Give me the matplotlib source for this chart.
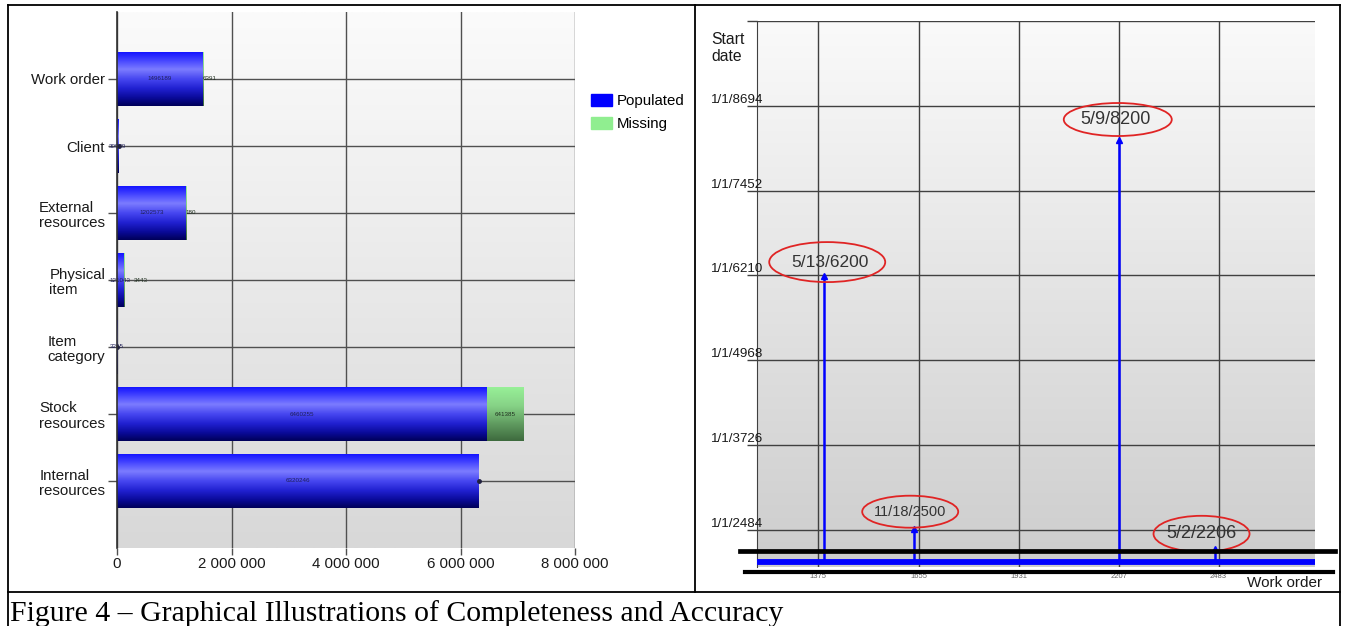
import datetime

import numpy as np
import matplotlib
matplotlib.use("Agg")
import matplotlib.pyplot as plt
import matplotlib.transforms as mtransforms
from matplotlib.colors import LinearSegmentedColormap
from matplotlib.lines import Line2D
from matplotlib.patches import Ellipse, Patch

plt.rcParams["font.family"] = ["Liberation Sans", "DejaVu Sans"]

# ---------------- completeness data (left panel) ----------------
categories = ["Work order", "Client", "External\nresources", "Physical\nitem",
              "Item\ncategory", "Stock\nresources", "Internal\nresources"]
populated = [1496189, 30979, 1202573, 121043, 3265, 6460255, 6320246]
missing = [6391, 0, 180, 3443, 0, 641385, 0]
x_ticks = [0, 2000000, 4000000, 6000000, 8000000]
x_tick_labels = ["0", "2 000 000", "4 000 000", "6 000 000", "8 000 000"]

# ---------------- accuracy data (right panel) ----------------
date_tick_labels = ["1/1/2484", "1/1/3726", "1/1/4968", "1/1/6210", "1/1/7452", "1/1/8694"]
date_axis_top = 9936
order_ticks = [1375, 1655, 1931, 2207, 2483]
order_range = [1206, 2750]
typical_year = 2010
outlier_orders = [1392, 1641, 2207, 2472]
outlier_dates = ["5/13/6200", "11/18/2500", "5/9/8200", "5/2/2206"]


def fractional_year(text):
    m, d, y = (int(v) for v in text.split("/"))
    day = datetime.date(y, m, d)
    start = datetime.date(y, 1, 1)
    length = (datetime.date(y + 1, 1, 1) - start).days if y < 9999 else 365
    return y + (day - start).days / length


outlier_years = [fractional_year(s) for s in outlier_dates]
grid_years = [fractional_year(s) for s in date_tick_labels] + [date_axis_top]

W, H = 1346, 626
fig = plt.figure(figsize=(W / 100, H / 100), dpi=100)


def px_box(left, top, right, bottom):
    return [left / W, 1 - bottom / H, (right - left) / W, (bottom - top) / H]


def background(ax, top_color, bottom_color):
    cmap = LinearSegmentedColormap.from_list("bg", [top_color, bottom_color])
    ax.imshow(np.linspace(0, 1, 256).reshape(-1, 1), extent=[0, 1, 0, 1],
              transform=ax.transAxes, cmap=cmap, aspect="auto", zorder=0,
              interpolation="bilinear")


blue_cmap = LinearSegmentedColormap.from_list(
    "bluebar", [(0.0, "#1414ff"), (0.12, "#3a3aff"), (0.32, "#7c7cff"),
                (0.5, "#4646f0"), (0.68, "#2020d0"), (0.85, "#0a0a98"),
                (1.0, "#000058")])
green_cmap = LinearSegmentedColormap.from_list(
    "greenbar", [(0.0, "#98f098"), (0.35, "#86d286"), (0.7, "#5e985e"),
                 (1.0, "#3e6a3e")])


def gradient_bar(ax, patch, cmap):
    w = patch.get_width()
    if w <= 0:
        return
    x0, y0, h = patch.get_x(), patch.get_y(), patch.get_height()
    im = ax.imshow(np.linspace(0, 1, 256).reshape(-1, 1),
                   extent=[x0, x0 + w, y0, y0 + h], cmap=cmap, aspect="auto",
                   zorder=2.1, interpolation="bilinear")
    im.set_clip_path(patch)


# ================= left panel: horizontal stacked bars =================
ax1 = fig.add_axes(px_box(117, 12, 575, 548))
background(ax1, "#fbfbfb", "#d8d8d8")
pos = np.arange(len(categories), 0, -1)
pop_bars = ax1.barh(pos, populated, height=0.8, color="#0000ff", lw=0, zorder=2)
mis_bars = ax1.barh(pos, missing, left=populated, height=0.8, color="#90ee90",
                    lw=0, zorder=2)
for p in pop_bars:
    gradient_bar(ax1, p, blue_cmap)
for p in mis_bars:
    gradient_bar(ax1, p, green_cmap)

for y, pv, mv in zip(pos, populated, missing):
    ax1.text(pv / 2, y, str(pv), fontsize=4.5, ha="center", va="center",
             color="#20205a", zorder=3)
    if mv > 50000:
        ax1.text(pv + mv / 2, y, str(mv), fontsize=4.5, ha="center",
                 va="center", color="#203020", zorder=3)
    elif mv > 0:
        # narrow segment: put the value just past the end of the bar
        shift = 7 if pv < 300000 else 0
        ax1.annotate(str(mv), xy=(pv + mv, y), xytext=(shift, 0),
                     textcoords="offset points", fontsize=4.5, ha="left",
                     va="center", color="#203020", zorder=3)
    else:
        ax1.plot(pv, y, "o", ms=2.5, color="#202040", zorder=3)

ax1.set_xlim(0, 8000000)
ax1.set_ylim(0, len(categories) + 1)
ax1.set_xticks(x_ticks)
ax1.set_xticklabels(x_tick_labels)
ax1.set_yticks(pos)
ax1.set_yticklabels(categories, multialignment="left", linespacing=1.1)
ax1.tick_params(axis="both", labelsize=10.8, colors="#505050", labelcolor="#1a1a1a")
ax1.tick_params(axis="y", length=6.5, width=1.0, pad=2)
ax1.tick_params(axis="x", length=5, width=1.0, pad=1.5)
ax1.grid(True, color="#505050", lw=1.0)
ax1.set_axisbelow(True)
for s in ["top", "right", "bottom"]:
    ax1.spines[s].set_visible(False)
ax1.spines["left"].set_color("#303030")
ax1.spines["left"].set_linewidth(1.2)
ax1.spines["left"].set_zorder(3)

fig.legend(handles=[Patch(color="#0000ff", label="Populated"),
                    Patch(color="#90ee90", label="Missing")],
           loc="upper left", bbox_to_anchor=(591 / W, 1 - 94 / H),
           frameon=False, fontsize=10.8, handlelength=1.4, handleheight=0.9,
           handletextpad=0.35, labelspacing=0.55, borderpad=0, borderaxespad=0)

# ================= right panel: start date by work order =================
ax2 = fig.add_axes(px_box(757, 21, 1315, 567))
background(ax2, "#fafafa", "#cdcdcd")
ax2.plot(order_range, [typical_year, typical_year], color="#0000ff", lw=4.2,
         solid_capstyle="butt", zorder=3)
ax2.vlines(outlier_orders, typical_year, outlier_years, color="#0000ff", lw=1.8,
           zorder=3)
ax2.plot(outlier_orders, outlier_years, "^", color="#0000ff", ms=4.5, zorder=4)

ax2.set_xlim(*order_range)
ax2.set_ylim(1940, date_axis_top)
ax2.set_yticks(grid_years)
ax2.set_yticklabels([])
ax2.set_xticks(order_ticks)
ax2.set_xticklabels([str(v) for v in order_ticks])
ax2.tick_params(axis="y", length=7, width=1.0, colors="#404040")
ax2.tick_params(axis="x", length=0, pad=4.5, labelsize=5.5, labelcolor="#606060")
ax2.grid(True, color="#404040", lw=1.0)
ax2.set_axisbelow(True)
for s in ["top", "right", "bottom"]:
    ax2.spines[s].set_visible(False)
ax2.spines["left"].set_color("#404040")

label_tr = mtransforms.blended_transform_factory(ax2.transAxes, ax2.transData)
for lab, yv in zip(date_tick_labels, grid_years):
    ax2.text(-0.0825, yv, lab, transform=label_tr, fontsize=9.6, ha="left",
             va="bottom", color="#1a1a1a", clip_on=False, zorder=5)

fig.text(711 / W, 1 - 32 / H, "Start\ndate", fontsize=11.3, ha="left", va="top",
         linespacing=1.15, color="#1a1a1a")
fig.text(1322 / W, 1 - 583 / H, "Work order", fontsize=11, ha="right",
         va="center", color="#1a1a1a")

# callouts: (text offset px, ellipse offset px, ellipse size px, font size)
callouts = [((6, 14), (3, 14), (116, 40), 12.5),
            ((-4, 17), (-4, 17), (96, 32), 10.5),
            ((-3, 20), (-1, 20), (108, 33), 13),
            ((-13, 15), (-13, 15), (96, 36), 13)]
for xo, yo, lab, (toff, eoff, esize, fs) in zip(outlier_orders, outlier_years,
                                                 outlier_dates, callouts):
    ax2.annotate(lab, xy=(xo, yo), xytext=(toff[0] * 0.72, toff[1] * 0.72),
                 textcoords="offset points", ha="center", va="center",
                 fontsize=fs, color="#333333", zorder=6)
    tr = fig.dpi_scale_trans + mtransforms.ScaledTranslation(xo, yo, ax2.transData)
    ax2.add_patch(Ellipse((eoff[0] / 100, eoff[1] / 100), esize[0] / 100,
                          esize[1] / 100, transform=tr, fc="none",
                          ec="#e02424", lw=1.3, clip_on=False, zorder=6))

# rows of overlapping point labels along the bottom of the panel
fig.add_artist(Line2D([740 / W, 1335 / W], [1 - 551 / H] * 2, color="black", lw=3.4))
fig.add_artist(Line2D([745 / W, 1333 / W], [1 - 571.5 / H] * 2, color="black", lw=3.0))

# ================= table frame and caption =================
frame = dict(color="black", lw=1.3)
fig.add_artist(Line2D([8 / W, 1340 / W], [1 - 5 / H] * 2, **frame))
fig.add_artist(Line2D([8 / W] * 2, [1 - 5 / H, 0], **frame))
fig.add_artist(Line2D([1340 / W] * 2, [1 - 5 / H, 0], **frame))
fig.add_artist(Line2D([695 / W] * 2, [1 - 5 / H, 1 - 592 / H], **frame))
fig.add_artist(Line2D([8 / W, 1340 / W], [1 - 592 / H] * 2, **frame))
fig.text(10 / W, 1 - 621 / H,
         "Figure 4 \u2013 Graphical Illustrations of Completeness and Accuracy",
         fontsize=21.4, family=["Liberation Serif", "DejaVu Serif"],
         ha="left", va="baseline", color="black")

fig.savefig("out.png", dpi=100)
